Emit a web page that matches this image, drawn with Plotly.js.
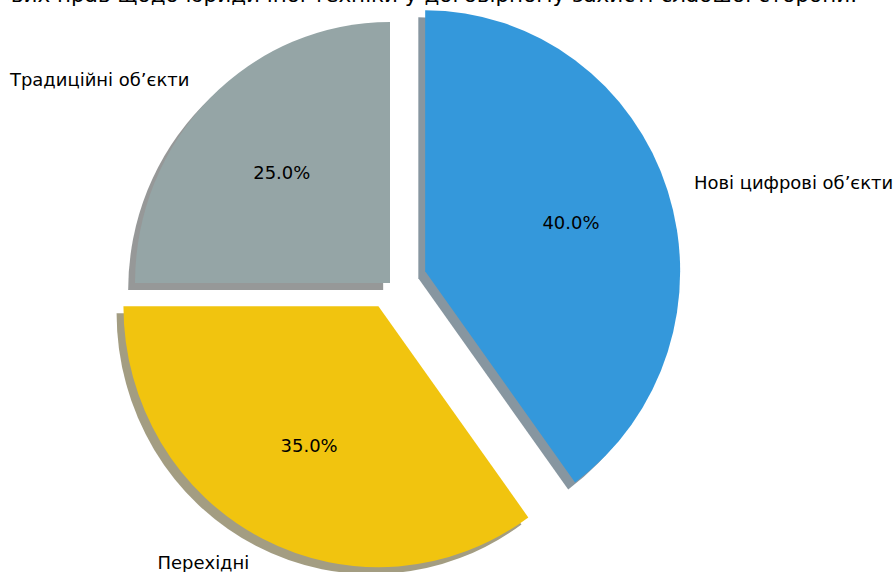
<!DOCTYPE html>
<html>
<head>
<meta charset="utf-8">
<script src="https://cdn.plot.ly/plotly-3.0.1.min.js"></script>
<style>
  html, body { margin: 0; padding: 0; overflow: hidden; background: #fff; width: 893px; height: 572px; }
  #chart { position: absolute; left: 0; top: -20px; width: 940px; height: 620px;
           transform-origin: 390px 0; transform: scaleX(0.977); }
</style>
</head>
<body>
<div id="chart"></div>
<script>
// ---- data ----
const categories = ["Нові цифрові об’єкти", "Перехідні", "Традиційні об’єкти"];
const shares = [40, 35, 25];
const explode = [0.145, 0.1, 0];
const colors = ["#3498db", "#f1c40f", "#95a5a6"];
const titleText = "Розподіл об’єктів цифрових прав щодо юридичної техніки у договірному захисті слабшої сторони.";

// ---- layout constants (pixels in the figure) ----
const W = 940, H = 620;
const cx = 390, cy = 303;        // pie centre
const R = 261;                   // pie radius
const maxPull = Math.max(...explode);
const half = R * (1 + maxPull);  // half size of pie box
const shadowOff = 7;             // matplotlib-like shadow offset
const fontSize = 18.4;

function dom(dx, dy) {
  return {
    x: [(cx - half + dx) / W, (cx + half + dx) / W],
    y: [1 - (cy + half + dy) / H, 1 - (cy - half + dy) / H]
  };
}

function shade(hex) {
  const r = parseInt(hex.slice(1, 3), 16), g = parseInt(hex.slice(3, 5), 16), b = parseInt(hex.slice(5, 7), 16);
  return `rgba(${Math.round(r * 0.3)},${Math.round(g * 0.3)},${Math.round(b * 0.3)},0.5)`;
}

const common = {
  type: "pie",
  labels: categories,
  values: shares,
  pull: explode,
  sort: false,
  direction: "clockwise",
  rotation: 0,
  showlegend: false,
  hoverinfo: "skip",
  textinfo: "none"
};

const shadowTrace = Object.assign({}, common, {
  domain: dom(-shadowOff, shadowOff),
  marker: { colors: colors.map(shade), line: { width: 0 } }
});

const mainTrace = Object.assign({}, common, {
  domain: dom(0, 0),
  marker: { colors: colors, line: { width: 0 } }
});

// labels & percentages placed like matplotlib (labeldistance 1.1, pctdistance 0.6)
const total = shares.reduce((a, b) => a + b, 0);
const annotations = [];
let cum = 0;
shares.forEach((v, i) => {
  const start = 90 - 360 * cum / total;
  const mid = (start - 180 * v / total) * Math.PI / 180;
  cum += v;
  const ux = Math.cos(mid), uy = -Math.sin(mid);
  const ax = cx + explode[i] * R * ux, ay = cy + explode[i] * R * uy;
  const lx = ax + 1.1 * R * ux, ly = ay + 1.1 * R * uy;
  const px = ax + 0.6 * R * ux, py = ay + 0.6 * R * uy;
  annotations.push({
    text: categories[i], xref: "paper", yref: "paper",
    x: lx / W, y: 1 - ly / H, xanchor: ux > 0 ? "left" : "right", yanchor: "middle",
    showarrow: false, font: { family: "DejaVu Sans", size: fontSize, color: "#000" }
  });
  annotations.push({
    text: (100 * v / total).toFixed(1) + "%", xref: "paper", yref: "paper",
    x: px / W, y: 1 - py / H, xanchor: "center", yanchor: "middle",
    showarrow: false, font: { family: "DejaVu Sans", size: fontSize, color: "#000" }
  });
});

const layout = {
  width: W,
  height: H,
  margin: { l: 0, r: 0, t: 0, b: 0 },
  paper_bgcolor: "#ffffff",
  plot_bgcolor: "#ffffff",
  font: { family: "DejaVu Sans", color: "#000" },
  annotations: annotations,
  title: {
    text: titleText,
    font: { family: "DejaVu Sans", size: 22, color: "#000" },
    xref: "container", yref: "container",
    x: (cx + (857 - cx) / 0.977) / W, xanchor: "right",
    y: 1 - 14.5 / H, yanchor: "middle"
  }
};

Plotly.newPlot("chart", [shadowTrace, mainTrace], layout, { staticPlot: true, displayModeBar: false });
</script>
</body>
</html>
